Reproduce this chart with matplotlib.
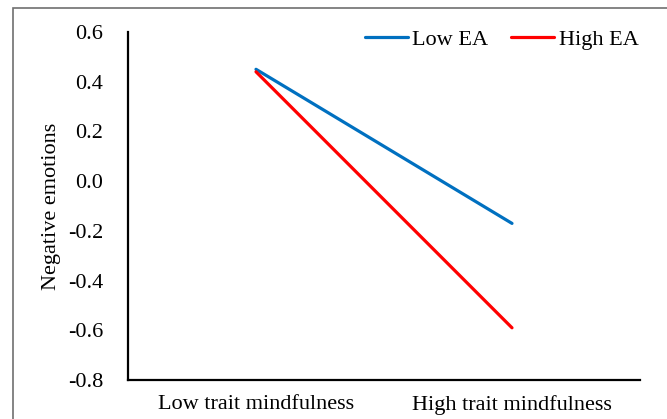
import matplotlib
matplotlib.use("Agg")

import matplotlib.pyplot as plt
from matplotlib.patches import Rectangle

plt.rcParams["font.family"] = ["Liberation Serif", "DejaVu Serif"]

categories = ["Low trait mindfulness", "High trait mindfulness"]
low_ea = [0.45, -0.17]
high_ea = [0.44, -0.59]
yticks = [-0.8, -0.6, -0.4, -0.2, 0.0, 0.2, 0.4, 0.6]

fig = plt.figure(figsize=(6.67, 4.19), dpi=100)
ax = fig.add_axes([128 / 667, 1 - 380 / 419, 512 / 667, 348 / 419])

x = list(range(len(categories)))
ax.plot(x, low_ea, color="#0070C0", lw=2.3, solid_capstyle="round", label="Low EA")
ax.plot(x, high_ea, color="#FF0000", lw=2.3, solid_capstyle="round", label="High EA")

ax.set_xlim(-0.5, 1.5)
ax.set_ylim(-0.8, 0.6)
ax.set_xticks(x)
ax.set_xticklabels(categories, fontsize=16)
ax.set_yticks(yticks)
ax.set_yticklabels([f"{v:.1f}" for v in yticks], fontsize=16)
ax.tick_params(axis="x", length=0, pad=11)
ax.tick_params(axis="y", length=0, pad=18)
ax.set_ylabel("Negative emotions", fontsize=16)
ax.yaxis.set_label_coords(-0.13, 0.5)

for s in ["top", "right"]:
    ax.spines[s].set_visible(False)
for s in ["left", "bottom"]:
    ax.spines[s].set_linewidth(1.6)
    ax.spines[s].set_color("black")

fig.legend(loc="center", bbox_to_anchor=(0.752, 1 - 40 / 419), ncol=2,
           frameon=False, fontsize=16, handlelength=1.95, handletextpad=0.2,
           columnspacing=1.0, borderpad=0)

fig.patches.append(Rectangle((13 / 667, -0.05), 1.1, 1 - 8 / 419 + 0.05,
                             transform=fig.transFigure, fill=False,
                             edgecolor="#707070", lw=1.2))

fig.savefig("out.png", dpi=100)
